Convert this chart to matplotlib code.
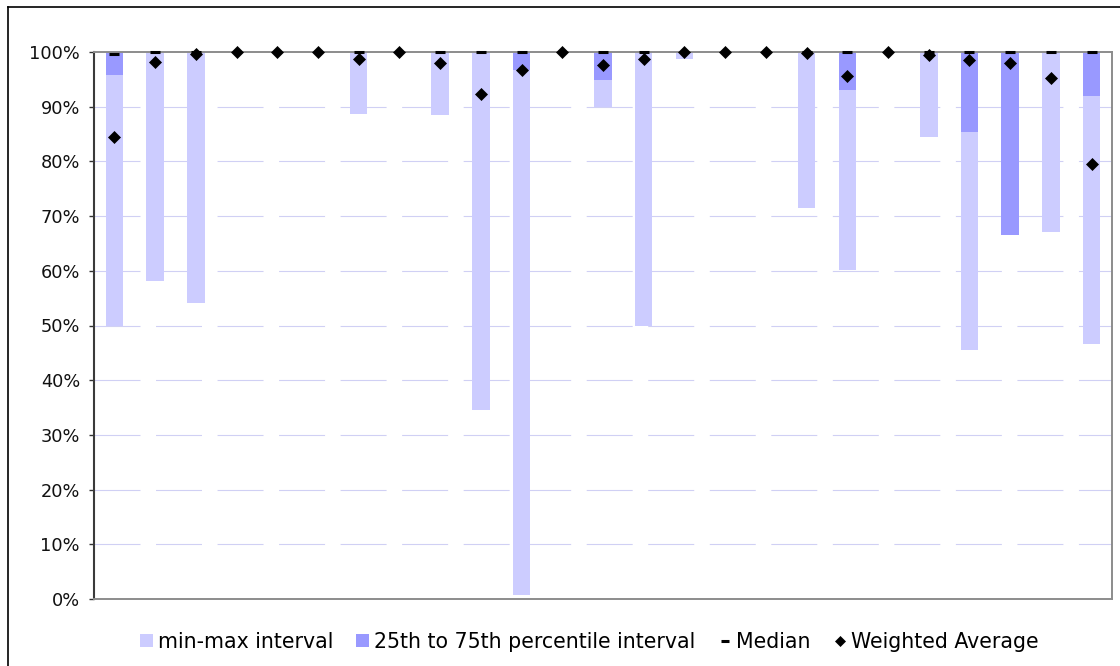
import matplotlib
matplotlib.use("Agg")
import matplotlib.pyplot as plt
import numpy as np
from matplotlib.lines import Line2D
from matplotlib.patches import Patch

plt.rcParams['font.family'] = ['DejaVu Sans']
plt.rcParams['lines.scale_dashes'] = False

# ---- data (percent) ----
categories = list(range(1, 26))
min_vals = [50.0, 58.2, 54.1, 100, 100, 100, 88.7, 100, 88.4, 34.6, 0.7, 100, 89.9,
            50.0, 98.8, 100, 100, 71.5, 60.1, 100, 84.5, 45.5, 66.5, 67.1, 46.6]
max_vals = [100] * 25
q25_vals = [95.8, 100, 100, 100, 100, 100, 100, 100, 100, 100, 96.8, 100, 94.9,
            100, 100, 100, 100, 100, 93.0, 100, 100, 85.4, 66.5, 100, 92.0]
q75_vals = [100] * 25
median_vals = [99.6, 100, 100, np.nan, np.nan, np.nan, 100, np.nan, 100, 100, 100, np.nan, 100,
               100, np.nan, np.nan, np.nan, 100, 100, np.nan, 100, 100, 100, 100, 100]
wavg_vals = [84.4, 98.1, 99.6, 100, 100, 100, 98.7, 100, 97.9, 92.3, 96.7, 100, 97.6,
             98.8, 100, 100, 100, 99.8, 95.6, 100, 99.4, 98.5, 97.9, 95.2, 79.6]
yticks = [0, 10, 20, 30, 40, 50, 60, 70, 80, 90, 100]
ytick_labels = ["0%", "10%", "20%", "30%", "40%", "50%", "60%", "70%", "80%", "90%", "100%"]
legend_labels = ["min-max interval", "25th to 75th percentile interval", "Median", "Weighted Average"]

light = "#CCCCFF"
dark = "#9999FF"
W, H = 1120, 666

fig = plt.figure(figsize=(W / 100, H / 100), dpi=100)
ax = fig.add_axes([94 / W, 1 - 599 / H, (1112 - 94) / W, (599 - 52) / H])

x = np.arange(len(categories))
mn = np.array(min_vals) / 100
mx = np.array(max_vals) / 100
q25 = np.array(q25_vals) / 100
q75 = np.array(q75_vals) / 100
med = np.array(median_vals) / 100
wav = np.array(wavg_vals) / 100

bw = 0.43
ax.bar(x, mx - mn, bottom=mn, width=bw, color=light, zorder=2, linewidth=0)
ax.bar(x, q75 - q25, bottom=q25, width=bw, color=dark, zorder=2.1, linewidth=0)
ax.plot(x, med, linestyle='none', marker='_', markersize=7.9, markeredgewidth=2.2,
        color='black', zorder=4, clip_on=False)
ax.plot(x, wav, linestyle='none', marker='D', markersize=6.3, markeredgewidth=0.5,
        color='black', zorder=5, clip_on=False)

# dashed gridlines
for yv in yticks[1:-1]:
    ax.axhline(yv / 100, color="#D0D0F4", linewidth=0.8,
               linestyle=(0, (33.1, 11.2)), zorder=0.5)

ax.set_xlim(-0.5, len(categories) - 0.5)
ax.set_ylim(0, 1)
ax.set_yticks([v / 100 for v in yticks])
ax.set_yticklabels(ytick_labels)
ax.set_xticks([])
ax.tick_params(axis='y', direction='out', length=3.6, width=1.0, color='#333333',
               pad=6.5, labelsize=12.8, labelcolor='#111111')

for s in ['top', 'right', 'bottom']:
    ax.spines[s].set_color('#8C8C8C')
    ax.spines[s].set_linewidth(1.4)
ax.spines['left'].set_color('#3A3A3A')
ax.spines['left'].set_linewidth(1.5)

# legend
handles = [
    Patch(facecolor=light, edgecolor='none'),
    Patch(facecolor=dark, edgecolor='none'),
    Line2D([], [], linestyle='none', marker='_', markersize=5.2, markeredgewidth=2.2, color='black'),
    Line2D([], [], linestyle='none', marker='D', markersize=5.6, markeredgewidth=0.5, color='black'),
]
fig.legend(handles, legend_labels, loc='center', bbox_to_anchor=(589.5 / W, 1 - 642 / H),
           ncol=4, frameon=False, fontsize=14.8, handlelength=0.63, handleheight=0.63,
           handletextpad=0.25, columnspacing=1.1, borderpad=0, borderaxespad=0)

# outer chart border (left and top visible)
fig.add_artist(Line2D([8.3 / W, 8.3 / W], [0, 1 - 6.7 / H], transform=fig.transFigure,
                      color='black', linewidth=1.2))
fig.add_artist(Line2D([8.3 / W, 1], [1 - 6.7 / H, 1 - 6.7 / H], transform=fig.transFigure,
                      color='black', linewidth=1.2))

fig.savefig("out.png", dpi=100, facecolor='white')
